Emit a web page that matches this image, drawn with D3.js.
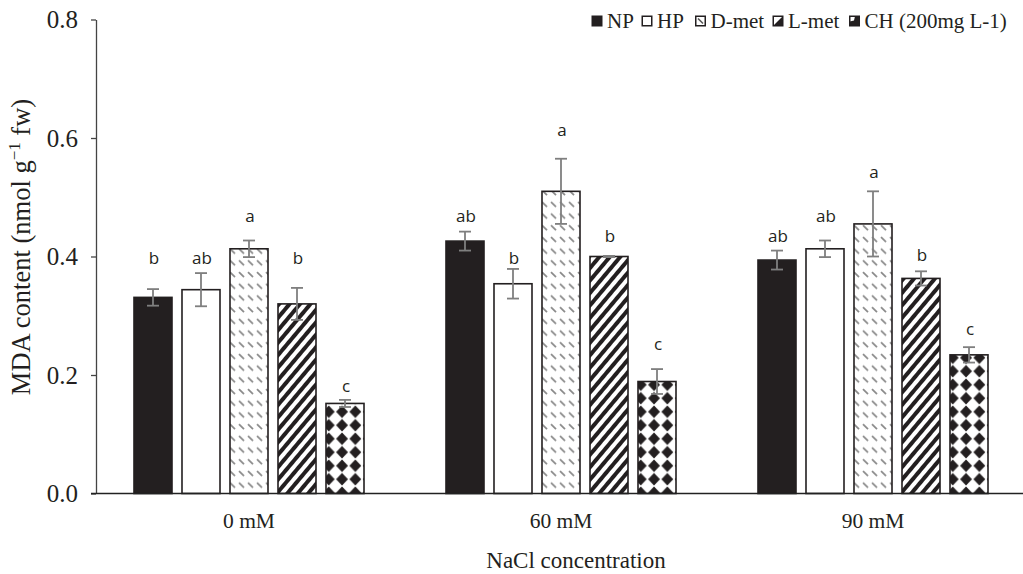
<!DOCTYPE html>
<html><head><meta charset="utf-8">
<script src="https://cdn.jsdelivr.net/npm/d3@7"></script>
<style>body{margin:0;background:#fff}svg{display:block}</style>
</head><body><svg id="c" width="1023" height="574"></svg>
<script>
const categories = ["0 mM", "60 mM", "90 mM"];
const seriesNames = ["NP", "HP", "D-met", "L-met", "CH (200mg L-1)"];
const npValues   = [0.331, 0.426, 0.394];
const hpValues   = [0.344, 0.354, 0.413];
const dmetValues = [0.413, 0.510, 0.455];
const lmetValues = [0.320, 0.400, 0.363];
const chValues   = [0.152, 0.189, 0.234];
const npErr   = [0.014, 0.016, 0.016];
const hpErr   = [0.028, 0.025, 0.014];
const dmetErr = [0.014, 0.055, 0.055];
const lmetErr = [0.027, 0.001, 0.012];
const chErr   = [0.006, 0.021, 0.013];
const npLetters   = ["b", "ab", "ab"];
const hpLetters   = ["ab", "b", "ab"];
const dmetLetters = ["a", "a", "a"];
const lmetLetters = ["b", "b", "b"];
const chLetters   = ["c", "c", "c"];
const npLetterLevel   = [0.398, 0.468, 0.434];
const hpLetterLevel   = [0.398, 0.398, 0.468];
const dmetLetterLevel = [0.469, 0.613, 0.542];
const lmetLetterLevel = [0.398, 0.434, 0.403];
const chLetterLevel   = [0.181, 0.253, 0.277];
const yTicks = [0, 0.2, 0.4, 0.6, 0.8];

const values = [npValues, hpValues, dmetValues, lmetValues, chValues];
const errs = [npErr, hpErr, dmetErr, lmetErr, chErr];
const letters = [npLetters, hpLetters, dmetLetters, lmetLetters, chLetters];
const levels = [npLetterLevel, hpLetterLevel, dmetLetterLevel, lmetLetterLevel, chLetterLevel];

const svg = d3.select("#c");
const serif = "'Liberation Serif','Times New Roman',serif";
const sans = "'Open Sans','Noto Sans',sans-serif";
const dark = "#231f20";

// patterns
const defs = svg.append("defs");
const pD = defs.append("pattern").attr("id","pD").attr("patternUnits","userSpaceOnUse")
  .attr("width",9).attr("height",11.7);
pD.append("rect").attr("width",9).attr("height",11.7).attr("fill","#fff");
pD.append("line").attr("x1",2).attr("y1",3).attr("x2",7).attr("y2",8)
  .attr("stroke","#8a8a8a").attr("stroke-width",1.7);
const pL = defs.append("pattern").attr("id","pL").attr("patternUnits","userSpaceOnUse")
  .attr("width",8).attr("height",8).attr("patternTransform","rotate(40)");
pL.append("rect").attr("width",8).attr("height",8).attr("fill","#fff");
pL.append("rect").attr("width",4).attr("height",8).attr("fill",dark);
const pC = defs.append("pattern").attr("id","pC").attr("patternUnits","userSpaceOnUse")
  .attr("width",13.3).attr("height",13.5).attr("x",3).attr("y",0);
pC.append("rect").attr("width",13.3).attr("height",13.5).attr("fill","#fff");
pC.append("path").attr("d","M6.65,0.5 L12.6,6.75 L6.65,13 L0.7,6.75Z").attr("fill",dark);
const fills = [dark, "#fff", "url(#pD)", "url(#pL)", "url(#pC)"];

const x0 = d3.scaleBand().domain(categories).range([93, 1029]);
const x1 = d3.scaleBand().domain(seriesNames).range([0, x0.bandwidth()])
  .paddingInner(0.2083).paddingOuter(0.854);
const y = d3.scaleLinear().domain([0, 0.8]).range([493.5, 19.5]);

// y axis
const yAxis = svg.append("g").attr("transform","translate(96,0)")
  .call(d3.axisLeft(y).tickValues(yTicks).tickFormat(d3.format(".1f")).tickSize(5).tickSizeOuter(0));
yAxis.select(".domain").attr("stroke","#444").attr("stroke-width",1.3);
yAxis.selectAll(".tick line").attr("stroke","#444").attr("stroke-width",1.3);
yAxis.selectAll("text").attr("font-family",serif).attr("font-size",25).attr("fill",dark).attr("x",-18);

// bars
const groups = svg.append("g").selectAll("g").data(categories).join("g")
  .attr("transform", d => `translate(${x0(d)},0)`);
groups.each(function(cat, ci) {
  const g = d3.select(this);
  seriesNames.forEach((s, si) => {
    const v = values[si][ci], e = errs[si][ci];
    const bx = x1(s), bw = x1.bandwidth(), cx = bx + bw / 2;
    g.append("rect").attr("x", bx).attr("y", y(v)).attr("width", bw).attr("height", y(0) - y(v))
      .attr("fill", fills[si]).attr("stroke", dark).attr("stroke-width", 1.6);
    const eg = g.append("g").attr("stroke", "#7f7f7f").attr("stroke-width", 1.8);
    eg.append("line").attr("x1", cx).attr("x2", cx).attr("y1", y(v + e)).attr("y2", y(v - e));
    eg.append("line").attr("x1", cx - 6).attr("x2", cx + 6).attr("y1", y(v + e)).attr("y2", y(v + e));
    eg.append("line").attr("x1", cx - 6).attr("x2", cx + 6).attr("y1", y(v - e)).attr("y2", y(v - e));
    g.append("text").attr("x", cx + 1).attr("y", y(levels[si][ci])).attr("dy", "0.36em")
      .attr("text-anchor", "middle").attr("font-family", sans).attr("font-size", 17)
      .attr("fill", dark).text(letters[si][ci]);
  });
});

// x axis
const xAxis = svg.append("g").attr("transform","translate(0,493.5)")
  .call(d3.axisBottom(x0).tickSize(0).tickPadding(19));
xAxis.select(".domain").attr("stroke","#222").attr("stroke-width",1.6).attr("d","M91,0H1023");
xAxis.selectAll("text").attr("font-family",serif).attr("font-size",21.5).attr("fill",dark);

// axis titles
svg.append("text").attr("x", 576).attr("y", 568).attr("text-anchor","middle")
  .attr("font-family", serif).attr("font-size", 23).attr("fill", dark).text("NaCl concentration");
const yt = svg.append("text").attr("transform","translate(30,247) rotate(-90)")
  .attr("text-anchor","middle").attr("font-family", serif).attr("font-size", 26.5).attr("fill", dark);
yt.append("tspan").text("MDA content (nmol g");
yt.append("tspan").attr("font-size", 17).attr("dy", -10).text("\u22121");
yt.append("tspan").attr("dy", 10).text(" fw)");

// legend
const legendX = [591.5, 641.5, 695, 772.5, 849];
const lg = svg.append("g");
seriesNames.forEach((s, i) => {
  const gx = legendX[i];
  const item = lg.append("g").attr("transform", `translate(${gx},15.5)`);
  if (i === 0) item.append("rect").attr("width",11).attr("height",11).attr("fill",dark);
  else if (i === 1) item.append("rect").attr("x",0.75).attr("y",0.75).attr("width",9.5).attr("height",9.5).attr("fill","#fff").attr("stroke",dark).attr("stroke-width",1.5);
  else {
    item.append("rect").attr("x",0.75).attr("y",0.75).attr("width",9.5).attr("height",9.5).attr("fill","#fff").attr("stroke",dark).attr("stroke-width",1.5);
    if (i === 2) item.append("line").attr("x1",3).attr("y1",3).attr("x2",8).attr("y2",8).attr("stroke","#555").attr("stroke-width",1.6);
    if (i === 3) item.append("path").attr("d","M10.25,0.75 L10.25,10.25 L0.75,10.25Z").attr("fill",dark);
    if (i === 4) item.append("path").attr("d","M0.75,10.25 L0.75,6 L5,5 L6,0.75 L10.25,0.75 L10.25,10.25Z").attr("fill",dark);
  }
  item.append("text").attr("x", 15.5).attr("y", 12).attr("font-family", serif).attr("font-size", 21)
    .attr("fill", dark).text(s);
});
</script></body></html>
